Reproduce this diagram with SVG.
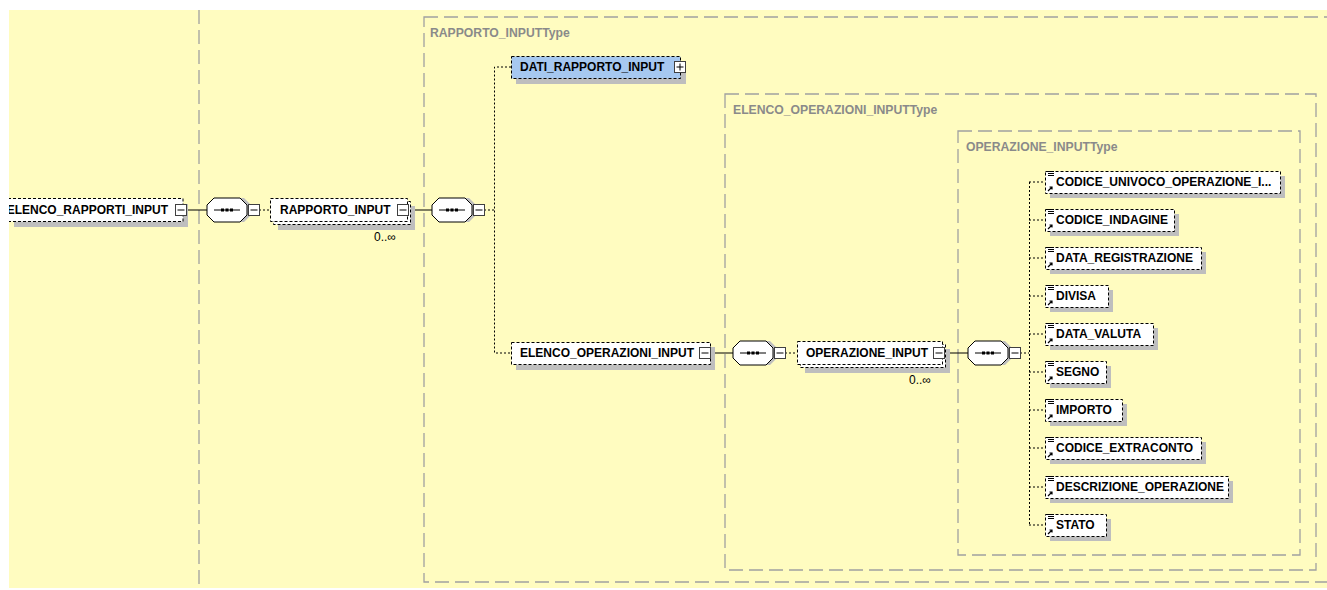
<svg xmlns="http://www.w3.org/2000/svg" width="1327" height="590" viewBox="0 0 1327 590">
<defs>
<style>
.bg{fill:#FFFCC0}
.cont{fill:none;stroke:#A0A0A0;stroke-width:1.3;stroke-dasharray:14,6}
.tlab{font-family:"Liberation Sans",Arial,sans-serif;font-weight:bold;font-size:12.2px;fill:#8A8A8A}
.sh{fill:#BEBEBE}
.box{fill:#FFFFFF;stroke:#000;stroke-width:1;stroke-dasharray:3,2}
.boxb{fill:#A6C8F0;stroke:#000;stroke-width:1;stroke-dasharray:3,2}
.name{font-family:"Liberation Sans",Arial,sans-serif;font-weight:bold;font-size:12px;fill:#000}
.occ{font-family:"Liberation Sans",Arial,sans-serif;font-size:12px;fill:#000}
.solid{fill:none;stroke:#000;stroke-width:1}
.dot{fill:none;stroke:#000;stroke-width:1;stroke-dasharray:2,2}
.ic{fill:#fff;stroke:#404040;stroke-width:1}
.icl{stroke:#000;stroke-width:1}
</style>
<g id="comp">
<polygon points="11,-7 37,-7 44,0 44,10 37,17 11,17 4,10 4,0" class="sh" transform="translate(0,-5)"/>
<polygon points="7,-12 33,-12 40,-5 40,5 33,12 7,12 0,5 0,-5" fill="#fff" stroke="#000" stroke-width="1"/>
<line x1="7" y1="0" x2="33" y2="0" class="icl"/>
<rect x="14" y="-1.5" width="3" height="3" fill="#000"/>
<rect x="18.5" y="-1.5" width="3" height="3" fill="#000"/>
<rect x="23" y="-1.5" width="3" height="3" fill="#000"/>
<rect x="41.5" y="-5.5" width="11" height="11" class="ic"/>
<line x1="43.5" y1="0" x2="50.5" y2="0" class="icl"/>
</g>
<g id="minus">
<rect x="0.5" y="-5.5" width="11" height="11" class="ic"/>
<line x1="2.5" y1="0" x2="9.5" y2="0" class="icl"/>
</g>
<g id="leaf">
<line x1="3" y1="-10.5" x2="9" y2="-10.5" stroke="#000" stroke-width="1"/>
<line x1="3" y1="-8.5" x2="9" y2="-8.5" stroke="#000" stroke-width="1"/>
<line x1="3" y1="-6.5" x2="9" y2="-6.5" stroke="#000" stroke-width="1"/>
<path d="M3,9 L7,5 M4.5,5 L7,5 L7,7.5" fill="none" stroke="#000" stroke-width="1.2"/>
</g>
</defs>

<rect x="9" y="10" width="1318" height="578" class="bg"/>
<line x1="199" y1="10" x2="199" y2="588" class="cont"/>
<rect x="424" y="17" width="920" height="565" class="cont"/>
<text x="430" y="37" class="tlab">RAPPORTO_INPUTType</text>
<rect x="725" y="94" width="591" height="476" class="cont"/>
<text x="733" y="114" class="tlab">ELENCO_OPERAZIONI_INPUTType</text>
<rect x="958" y="131" width="342" height="424" class="cont"/>
<text x="966" y="151" class="tlab">OPERAZIONE_INPUTType</text>

<g id="connectors">
<line x1="187" y1="210" x2="207" y2="210" class="solid"/>
<line x1="259" y1="210" x2="270" y2="210" class="dot"/>
<line x1="410" y1="210" x2="432" y2="210" class="solid"/>
<line x1="484" y1="210" x2="494" y2="210" class="dot"/>
<polyline points="511,67 494.5,67 494.5,353 511,353" class="dot"/>
<line x1="711" y1="353" x2="733" y2="353" class="solid"/>
<line x1="785" y1="353" x2="797" y2="353" class="dot"/>
<line x1="945" y1="353" x2="968" y2="353" class="solid"/>
<line x1="1020" y1="353" x2="1029" y2="353" class="dot"/>
<line x1="1029.5" y1="182" x2="1029.5" y2="525" class="dot"/>
<line x1="1029" y1="182" x2="1045" y2="182" class="dot"/>
<line x1="1029" y1="220" x2="1045" y2="220" class="dot"/>
<line x1="1029" y1="258" x2="1045" y2="258" class="dot"/>
<line x1="1029" y1="296" x2="1045" y2="296" class="dot"/>
<line x1="1029" y1="334" x2="1045" y2="334" class="dot"/>
<line x1="1029" y1="372" x2="1045" y2="372" class="dot"/>
<line x1="1029" y1="410" x2="1045" y2="410" class="dot"/>
<line x1="1029" y1="448" x2="1045" y2="448" class="dot"/>
<line x1="1029" y1="487" x2="1045" y2="487" class="dot"/>
<line x1="1029" y1="525" x2="1045" y2="525" class="dot"/>
</g>

<g id="n_elenco_rapporti">
<rect x="14" y="204" width="174" height="23" class="sh"/>
<rect x="-2" y="198.5" width="185" height="23" class="box"/>
<text x="168" y="214" text-anchor="end" class="name">ELENCO_RAPPORTI_INPUT</text>
<use href="#minus" x="175" y="210"/>
</g>
<rect x="0" y="0" width="9" height="590" fill="#fff"/>

<g id="c1"><use href="#comp" x="207" y="210"/></g>

<g id="n_rapporto">
<rect x="278" y="206" width="137" height="24" class="sh"/>
<rect x="273.5" y="201.5" width="137" height="23" class="box"/>
<rect x="270.5" y="198.5" width="137" height="23" class="box"/>
<text x="280" y="214" class="name">RAPPORTO_INPUT</text>
<use href="#minus" x="397" y="210"/>
<text x="374" y="241" class="occ">0..∞</text>
</g>

<g id="c2"><use href="#comp" x="432" y="210"/></g>

<g id="n_dati">
<rect x="516" y="61" width="170" height="23" class="sh"/>
<rect x="511.5" y="56.5" width="169" height="22" class="boxb"/>
<text x="520" y="71" class="name">DATI_RAPPORTO_INPUT</text>
<rect x="674.5" y="61.5" width="11" height="11" class="ic"/>
<line x1="676.5" y1="67" x2="683.5" y2="67" class="icl"/>
<line x1="680" y1="63.5" x2="680" y2="70.5" class="icl"/>
</g>

<g id="n_elenco_op">
<rect x="516" y="347" width="199" height="23" class="sh"/>
<rect x="511.5" y="342.5" width="199" height="22" class="box"/>
<text x="520" y="357" class="name">ELENCO_OPERAZIONI_INPUT</text>
<use href="#minus" x="699" y="353"/>
</g>

<g id="c3"><use href="#comp" x="733" y="353"/></g>

<g id="n_operazione">
<rect x="805" y="349" width="145" height="24" class="sh"/>
<rect x="800.5" y="344.5" width="145" height="23" class="box"/>
<rect x="797.5" y="341.5" width="145" height="23" class="box"/>
<text x="806" y="357" class="name">OPERAZIONE_INPUT</text>
<use href="#minus" x="933" y="353"/>
<text x="909" y="384" class="occ">0..∞</text>
</g>

<g id="c4"><use href="#comp" x="968" y="353"/></g>

<g id="n_codice_univoco">
<rect x="1050" y="176" width="235" height="22" class="sh"/>
<rect x="1045.5" y="171.5" width="235" height="22" class="box"/>
<use href="#leaf" x="1045" y="182"/>
<text x="1056" y="186" class="name">CODICE_UNIVOCO_OPERAZIONE_I...</text>
</g>
<g id="n_codice_indagine">
<rect x="1050" y="214" width="129" height="22" class="sh"/>
<rect x="1045.5" y="209.5" width="129" height="22" class="box"/>
<use href="#leaf" x="1045" y="220"/>
<text x="1056" y="224" class="name">CODICE_INDAGINE</text>
</g>
<g id="n_data_registrazione">
<rect x="1050" y="252" width="156" height="22" class="sh"/>
<rect x="1045.5" y="247.5" width="156" height="22" class="box"/>
<use href="#leaf" x="1045" y="258"/>
<text x="1056" y="262" class="name">DATA_REGISTRAZIONE</text>
</g>
<g id="n_divisa">
<rect x="1050" y="290" width="63" height="22" class="sh"/>
<rect x="1045.5" y="285.5" width="63" height="22" class="box"/>
<use href="#leaf" x="1045" y="296"/>
<text x="1056" y="300" class="name">DIVISA</text>
</g>
<g id="n_data_valuta">
<rect x="1050" y="328" width="108" height="22" class="sh"/>
<rect x="1045.5" y="323.5" width="108" height="22" class="box"/>
<use href="#leaf" x="1045" y="334"/>
<text x="1056" y="338" class="name">DATA_VALUTA</text>
</g>
<g id="n_segno">
<rect x="1050" y="366" width="61" height="22" class="sh"/>
<rect x="1045.5" y="361.5" width="61" height="22" class="box"/>
<use href="#leaf" x="1045" y="372"/>
<text x="1056" y="376" class="name">SEGNO</text>
</g>
<g id="n_importo">
<rect x="1050" y="404" width="77" height="22" class="sh"/>
<rect x="1045.5" y="399.5" width="77" height="22" class="box"/>
<use href="#leaf" x="1045" y="410"/>
<text x="1056" y="414" class="name">IMPORTO</text>
</g>
<g id="n_codice_extraconto">
<rect x="1050" y="442" width="156" height="22" class="sh"/>
<rect x="1045.5" y="437.5" width="156" height="22" class="box"/>
<use href="#leaf" x="1045" y="448"/>
<text x="1056" y="452" class="name">CODICE_EXTRACONTO</text>
</g>
<g id="n_descrizione">
<rect x="1050" y="481" width="183" height="22" class="sh"/>
<rect x="1045.5" y="476.5" width="183" height="22" class="box"/>
<use href="#leaf" x="1045" y="487"/>
<text x="1056" y="491" class="name">DESCRIZIONE_OPERAZIONE</text>
</g>
<g id="n_stato">
<rect x="1050" y="519" width="61" height="22" class="sh"/>
<rect x="1045.5" y="514.5" width="61" height="22" class="box"/>
<use href="#leaf" x="1045" y="525"/>
<text x="1056" y="529" class="name">STATO</text>
</g>
</svg>
